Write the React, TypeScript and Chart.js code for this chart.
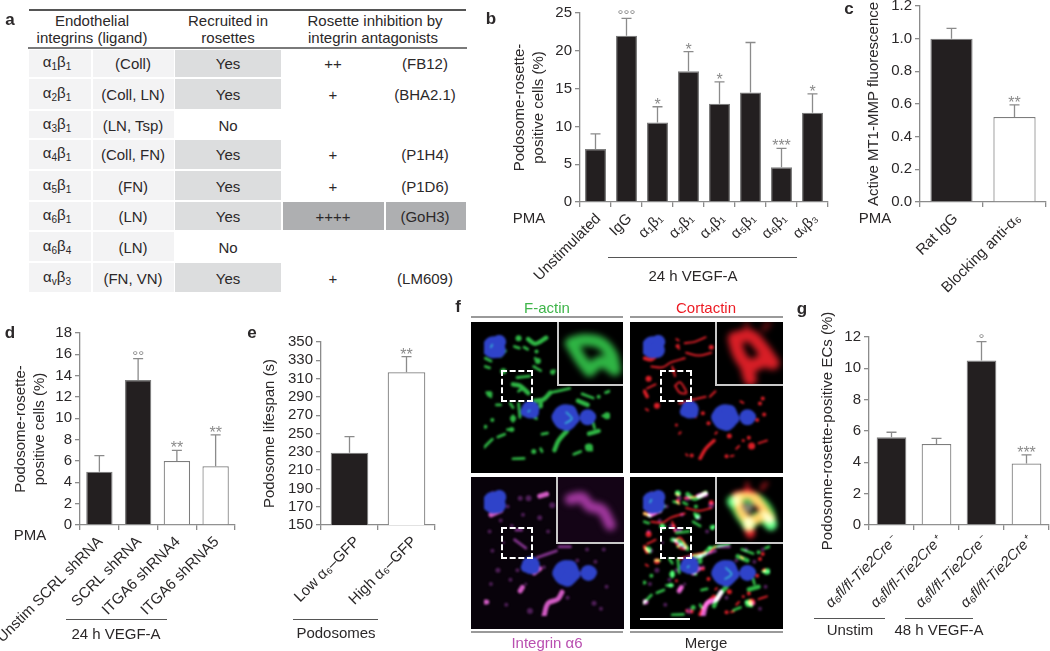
import React, { useEffect, useRef } from "react";
import { Chart, registerables } from "chart.js";

Chart.register(...registerables);

/* ---------- panel a ---------- */
const tableIntegrins = [["1", "1"], ["2", "1"], ["3", "1"], ["4", "1"], ["5", "1"], ["6", "1"], ["6", "4"], ["v", "3"]];
const tableLigands = ["(Coll)", "(Coll, LN)", "(LN, Tsp)", "(Coll, FN)", "(FN)", "(LN)", "(LN)", "(FN, VN)"];
const tableRecruited = ["Yes", "Yes", "No", "Yes", "Yes", "Yes", "No", "Yes"];
const tableInhibition = ["++", "+", "", "+", "+", "++++", "", "+"];
const tableAntibody = ["(FB12)", "(BHA2.1)", "", "(P1H4)", "(P1D6)", "(GoH3)", "", "(LM609)"];

/* ---------- panel b ---------- */
const bLabels = ["Unstimulated", "IgG", "α₁β₁", "α₂β₁", "α₄β₁", "α₅β₁", "α₆β₁", "αᵥβ₃"];
const bValues = [7, 22, 10.5, 17.3, 13, 14.5, 4.6, 11.8];
const bErrorTops = [9, 24.3, 12.6, 19.9, 15.9, 21.1, 7.1, 14.3];
const bMarks = ["", "°°°", "*", "*", "*", "", "***", "*"];
/* ---------- panel c ---------- */
const cLabels = ["Rat IgG", "Blocking anti-α₆"];
const cValues = [1.0, 0.52];
const cErrorTops = [1.063, 0.595];
const cMarks = ["", "**"];
/* ---------- panel d ---------- */
const dLabels = ["Unstim SCRL shRNA", "SCRL shRNA", "ITGA6 shRNA4", "ITGA6 shRNA5"];
const dValues = [5, 13.6, 6, 5.5];
const dErrorTops = [6.5, 15.6, 7, 8.45];
const dMarks = ["", "°°", "**", "**"];
/* ---------- panel e ---------- */
const eLabels = ["Low α₆–GFP", "High α₆–GFP"];
const eValues = [229, 317];
const eErrorTops = [246.5, 334];
const eMarks = ["", "**"];
/* ---------- panel g ---------- */
const gLabels = ["α₆fl/fl-Tie2Cre⁻", "α₆fl/fl-Tie2Cre⁺", "α₆fl/fl-Tie2Cre⁻", "α₆fl/fl-Tie2Cre⁺"];
const gValues = [5.6, 5.17, 10.5, 3.93];
const gErrorTops = [5.92, 5.53, 11.7, 4.47];
const gMarks = ["", "", "°", "***"];

/* ---------- panel f: fluorescence structures ---------- */
const nuclei = [[35, 45, 11], [18, 55, 6], [55, 25, 7], [50, 55, 8], [168, 272, 9], [150, 280, 5], [180, 285, 5], [295, 300, 13], [270, 300, 7], [300, 325, 7], [310, 280, 7], [325, 305, 6], [375, 300, 8], [388, 298, 5]];
const cyanLines = [[[298, 282], [318, 305], [295, 322]], [[30, 35], [25, 45]], [[165, 275], [160, 280]]];

const greenBands = [
  [[160, 15], [185, 32], [225, 10]], [[105, 180], [130, 185], [160, 212]], [[185, 240], [215, 235], [240, 210]],
  [[300, 350], [270, 385], [255, 420]], [[205, 260], [205, 240]], [[380, 360], [415, 350]], [[340, 240], [375, 255]],
];
const greenLines = [
  [[5, 85], [25, 95]], [[60, 78], [78, 58]], [[110, 42], [128, 48]], [[145, 45], [158, 52]], [[122, 10], [130, 14]],
  [[185, 85], [195, 100]], [[180, 115], [205, 130]], [[65, 130], [75, 135]], [[120, 155], [165, 150]], [[125, 205], [140, 195]],
  [[10, 210], [25, 225]], [[45, 255], [60, 255]], [[95, 250], [105, 265]], [[125, 250], [130, 300]], [[240, 210], [310, 195]],
  [[105, 295], [105, 315]], [[355, 215], [395, 230]], [[430, 295], [455, 295]], [[395, 320], [400, 340]],
  [[370, 405], [390, 420]], [[0, 410], [30, 380]], [[50, 372], [75, 362]], [[85, 345], [105, 345]],
  [[210, 362], [230, 358]], [[105, 452], [145, 450]], [[325, 435], [350, 425]], [[205, 415], [210, 425]], [[440, 210], [455, 205]],
  [[180, 300], [190, 305]], [[255, 130], [250, 140]], [[5, 115], [20, 120]],
];
const greenDots = [[125, 12, 3], [70, 132, 3], [195, 95, 3], [20, 215, 3], [180, 425, 2.5], [100, 345, 2.5], [105, 305, 3], [380, 410, 4], [445, 295, 3.5], [190, 60, 2], [248, 135, 2.5], [30, 310, 2], [5, 335, 2], [415, 225, 2]];
const redBands = [[[5, 205], [15, 225]], [[205, 450], [225, 415], [255, 385]], [[5, 85], [30, 90], [55, 70]]];
const redLines = [
  [[150, 30], [185, 25], [225, 8]], [[155, 65], [200, 75], [245, 65]], [[30, 115], [70, 118], [100, 100], [150, 85]],
  [[120, 15], [128, 20]], [[120, 40], [130, 50]], [[105, 115], [115, 150]], [[115, 185], [132, 172], [150, 195], [155, 212], [132, 210], [115, 185]],
  [[15, 195], [45, 180]], [[170, 238], [225, 225]], [[240, 225], [260, 205]], [[130, 250], [180, 235]], [[10, 270], [18, 275]],
  [[315, 442], [325, 440]], [[345, 405], [335, 415]], [[415, 395], [445, 385]], [[155, 435], [160, 440]], [[130, 360], [135, 355]],
  [[260, 360], [265, 355]], [[350, 242], [360, 248]], [[175, 295], [190, 300]],
];
const redDots = [[20, 160, 3], [50, 258, 3], [235, 322, 2], [310, 368, 2.5], [390, 405, 3.5], [410, 310, 2], [420, 250, 2], [435, 290, 2], [380, 375, 2], [175, 440, 2], [430, 232, 2], [120, 328, 1.5], [300, 442, 2], [125, 40, 2], [245, 45, 2.5], [215, 285, 2], [110, 130, 2], [360, 385, 1.5]];
const magentaBright = [[[215, 458], [230, 410], [265, 395], [280, 370]], [[130, 365], [138, 352]], [[180, 300], [200, 285]], [[200, 22], [225, 15]], [[25, 90], [60, 75]], [[5, 405], [10, 405]]];
const magentaMid = [[[190, 245], [260, 220]], [[110, 180], [150, 210]], [[115, 145], [135, 145]], [[30, 10], [45, 15]], [[270, 205], [310, 205]]];
const magentaDots = [[160, 30, 3], [130, 30, 2.5], [245, 55, 3], [140, 90, 2], [100, 130, 2], [50, 290, 2.5], [95, 325, 2], [30, 220, 2], [200, 100, 2.5], [395, 410, 2.5], [165, 438, 3], [370, 215, 2], [430, 215, 2], [335, 255, 2], [350, 300, 2], [120, 290, 2], [60, 110, 2], [85, 60, 2], [230, 150, 2], [20, 150, 2], [70, 190, 1.5], [215, 280, 2], [400, 260, 2], [300, 390, 2], [440, 350, 2], [25, 340, 2], [80, 415, 2], [150, 340, 1.5], [420, 430, 2]];

const insetGreen = [[[35, 65], [70, 55], [120, 62], [155, 100], [165, 145]], [[40, 72], [65, 115], [90, 148]], [[90, 148], [125, 120], [165, 145]]];
const insetRed = [[[50, 50], [95, 42], [130, 80], [160, 125]], [[160, 125], [130, 118], [110, 130], [80, 125], [60, 90], [50, 50]], [[85, 135], [95, 175]]];
const insetRedFaint = [[[85, 0], [85, 30]], [[135, 22], [150, 0]]];
const insetMagenta = [[[35, 65], [70, 60], [90, 85], [125, 95], [150, 140]]];
const insetCore = [[88, 88, 5]];

const AXIS = "#8b8b8b";
const INK = "#2b2829";
const FONT = "'Liberation Sans', Arial, sans-serif";

const errorPlugin = {
  id: "errorMarks",
  afterDatasetsDraw(chart: any, _a: any, opts: any) {
    const { ctx, scales } = chart;
    const tops: number[] = opts.tops;
    const marks: string[] = opts.marks;
    const vals = chart.data.datasets[0].data;
    ctx.save();
    tops.forEach((t, i) => {
      const x = scales.x.getPixelForValue(i);
      const y0 = scales.y.getPixelForValue(vals[i]);
      const y1 = scales.y.getPixelForValue(t);
      ctx.strokeStyle = AXIS;
      ctx.lineWidth = 1.3;
      ctx.beginPath();
      ctx.moveTo(x, y0);
      ctx.lineTo(x, y1);
      ctx.moveTo(x - 5, y1);
      ctx.lineTo(x + 5, y1);
      ctx.stroke();
      const m = marks[i];
      if (m) {
        const star = m[0] === "*";
        ctx.fillStyle = "#8b8b8b";
        ctx.textAlign = "center";
        ctx.textBaseline = "alphabetic";
        ctx.font = `${star ? 16 : 15}px ${FONT}`;
        ctx.fillText(m, x, y1 + (star ? 3 : 2));
      }
    });
    ctx.restore();
  },
};

type BarProps = {
  labels: string[]; values: number[]; tops: number[]; marks: string[]; fills: string[];
  plot: [number, number, number, number]; min: number; max: number; step: number;
  title: string | string[]; titleX: number; pct: number; italic?: boolean; decimals?: number; shift?: number;
};

function BarPanel(p: BarProps) {
  const ref = useRef<HTMLCanvasElement>(null);
  useEffect(() => {
    const [l, t, r, b] = p.plot;
    const lh = 18.4;
    const left = p.titleX - lh / 2;
    const xh = 120;
    const chart = new Chart(ref.current!, {
      type: "bar",
      data: {
        labels: p.labels,
        datasets: [{ data: p.values, backgroundColor: p.fills, borderColor: "#7d7d7d", borderWidth: 1.2, barPercentage: p.pct, categoryPercentage: 1 }],
      },
      plugins: [errorPlugin as any],
      options: {
        animation: false, responsive: false, devicePixelRatio: 1,
        layout: { padding: { left, top: t, right: 1050 - r, bottom: 651 - b - xh } },
        plugins: { legend: { display: false }, tooltip: { enabled: false }, errorMarks: { tops: p.tops, marks: p.marks } } as any,
        scales: {
          x: {
            type: "category", offset: true,
            afterFit(s: any) { s.height = xh; s.paddingLeft = 0; s.paddingRight = 0; },
            border: { color: AXIS, width: 1.3 },
            grid: { drawOnChartArea: false, drawTicks: true, tickLength: 5, color: AXIS, lineWidth: 1.3, offset: true },
            ticks: { autoSkip: false, minRotation: 45, maxRotation: 45, padding: 3, labelOffset: p.shift ?? 2, color: INK, font: { family: FONT, size: p.italic ? 14.5 : 15, style: p.italic ? "italic" : "normal" } },
          },
          y: {
            min: p.min, max: p.max,
            afterFit(s: any) { s.width = l - left; s.paddingTop = 0; s.paddingBottom = 0; },
            border: { color: AXIS, width: 1.3 },
            grid: { drawOnChartArea: false, drawTicks: true, tickLength: 5, color: AXIS, lineWidth: 1.3 },
            ticks: {
              stepSize: p.step, padding: 3, color: INK, autoSkip: false, font: { family: FONT, size: 15 },
              callback: (v: any) => (p.decimals ? Number(v).toFixed(p.decimals) : String(v)),
            },
            title: { display: true, text: p.title, color: INK, padding: 0, font: { family: FONT, size: 15, lineHeight: lh / 15 } },
          },
        },
      },
    } as any);
    return () => chart.destroy();
  }, []);
  return <canvas ref={ref} width={1050} height={651} style={{ position: "absolute", left: 0, top: 0, pointerEvents: "none" }} />;
}

const blendPlugin = {
  id: "blend",
  beforeDatasetDraw(chart: any, args: any) {
    const d = chart.data.datasets[args.index];
    chart.ctx.save();
    if (d.blendMode) chart.ctx.globalCompositeOperation = d.blendMode;
  },
  afterDatasetDraw(chart: any) {
    chart.ctx.restore();
  },
};

const lineSets = (lists: number[][][], color: string, width: number, blendMode?: string) =>
  lists.map((pts) => ({
    type: "line", data: pts.map(([x, y]) => ({ x, y })), borderColor: color, borderWidth: width, pointRadius: 0, tension: 0.35,
    borderCapStyle: "round", borderJoinStyle: "round", fill: false, blendMode,
  }));
const dotSet = (dots: number[][], color: string, blendMode?: string) => ({
  type: "bubble", data: dots.map(([x, y, r]) => ({ x, y, r })), backgroundColor: color, borderWidth: 0, blendMode,
});

function Fluo({ box, range, sets, blur, bg, frame }: { box: number[]; range: number; sets: any[]; blur: number; bg: string; frame?: boolean }) {
  const ref = useRef<HTMLCanvasElement>(null);
  useEffect(() => {
    const chart = new Chart(ref.current!, {
      type: "bubble",
      data: { datasets: sets },
      plugins: [blendPlugin as any],
      options: {
        animation: false, responsive: false, devicePixelRatio: 1,
        layout: { padding: 0 },
        plugins: { legend: { display: false }, tooltip: { enabled: false } },
        scales: {
          x: { type: "linear", min: 0, max: range, display: false },
          y: { type: "linear", min: 0, max: range, reverse: true, display: false },
        },
      },
    } as any);
    return () => chart.destroy();
  }, []);
  const [x, y, w, h] = box;
  return (
    <div style={{ position: "absolute", left: x, top: y, width: w, height: h, overflow: "hidden", background: bg, boxSizing: "border-box", borderLeft: frame ? "2px solid #c9c9c9" : undefined, borderBottom: frame ? "2px solid #c9c9c9" : undefined }}>
      <canvas ref={ref} width={w} height={h} style={{ display: "block", filter: `blur(${blur}px)` }} />
    </div>
  );
}

const G = "#2fb544", R = "#d81e26", M = "#d05ac2", MM = "#7f3289", MD = "#4f1f58", B = "#2f43c9", C = "#35b8d8";
const nucSets = () => [dotSet(nuclei, B)];
const greenSets = (bm?: string) => [...lineSets(greenBands, G, 4.5, bm), ...lineSets(greenLines, G, 2.8, bm), dotSet(greenDots, G, bm)];
const redSets = (bm?: string) => [...lineSets(redBands, R, 3.6, bm), ...lineSets(redLines, R, 2, bm), dotSet(redDots, R, bm)];
const magSets = (bm?: string) => [...lineSets(magentaBright, M, 5, bm), ...lineSets(magentaMid, MM, 3, bm), dotSet(magentaDots, MD, bm)];

const Txt = ({ x, y, s, size = 15, color = INK, bold = false }: any) => (
  <div style={{ position: "absolute", left: x, top: y, transform: "translate(-50%,-50%)", whiteSpace: "nowrap", fontFamily: FONT, fontSize: size, color, fontWeight: bold ? 700 : 400, lineHeight: 1 }}>{s}</div>
);
const Rect = ({ x, y, w, h, c }: any) => <div style={{ position: "absolute", left: x, top: y, width: w, height: h, background: c }} />;
const Dash = ({ x, y }: any) => <div style={{ position: "absolute", left: x, top: y, width: 32, height: 32, boxSizing: "border-box", border: "2px dashed #fff" }} />;
const Sub = ({ t }: { t: string }) => <span style={{ fontSize: 10, verticalAlign: -3 }}>{t}</span>;

const rowTops = [50, 78.7, 111.3, 140, 171.3, 201.7, 232.3, 263];
const rowBottoms = [76.7, 109.3, 138, 168.7, 199.7, 230.3, 261, 292];

export default function App() {
  const K = "#231f20", W = "#ffffff";
  return (
    <div style={{ position: "absolute", left: 0, top: 0, width: 1050, height: 651, overflow: "hidden", background: "#fff" }}>
      {/* panel a */}
      <Rect x={29} y={9} w={437} h={1.5} c="#555" />
      <Rect x={28} y={47} w={439} h={2} c="#7a7a7a" />
      <Txt x={92} y={20} s="Endothelial" /><Txt x={92} y={37} s="integrins (ligand)" />
      <Txt x={228} y={20} s="Recruited in" /><Txt x={228} y={37} s="rosettes" />
      <Txt x={375} y={20} s="Rosette inhibition by" /><Txt x={373} y={37} s="integrin antagonists" />
      {tableLigands.map((lig, i) => {
        const top = rowTops[i], h = rowBottoms[i] - top, mid = top + h / 2;
        const strong = tableInhibition[i] === "++++";
        return (
          <React.Fragment key={i}>
            <Rect x={29} y={top} w={62} h={h} c="#f3f3f4" />
            <Rect x={93} y={top} w={81} h={h} c="#f3f3f4" />
            {tableRecruited[i] === "Yes" && <Rect x={175} y={top} w={106} h={h} c="#dcddde" />}
            {strong && <Rect x={283} y={top} w={101} h={h} c="#aeafb1" />}
            {strong && <Rect x={386} y={top} w={80} h={h} c="#aeafb1" />}
            <Txt x={57} y={mid} s={<>α<Sub t={tableIntegrins[i][0]} />β<Sub t={tableIntegrins[i][1]} /></>} />
            <Txt x={133} y={mid} s={lig} />
            <Txt x={228} y={mid} s={tableRecruited[i]} />
            {tableInhibition[i] && <Txt x={333} y={mid} s={tableInhibition[i]} />}
            {tableAntibody[i] && <Txt x={425} y={mid} s={tableAntibody[i]} />}
          </React.Fragment>
        );
      })}

      {/* bar panels */}
      <BarPanel labels={bLabels} values={bValues} tops={bErrorTops} marks={bMarks} fills={bValues.map(() => K)} plot={[580, 13, 828, 202]} min={0} max={25} step={5} title={["Podosome-rosette-", "positive cells (%)"]} titleX={520} pct={0.68} shift={3} />
      <BarPanel labels={cLabels} values={cValues} tops={cErrorTops} marks={cMarks} fills={[K, W]} plot={[920, 6, 1046, 202]} min={0} max={1.2} step={0.2} title="Active MT1-MMP fluorescence" titleX={874} pct={0.67} decimals={1} shift={4} />
      <BarPanel labels={dLabels} values={dValues} tops={dErrorTops} marks={dMarks} fills={[K, K, W, W]} plot={[80, 333, 235, 525]} min={0} max={18} step={2} title={["Podosome-rosette-", "positive cells (%)"]} titleX={21} pct={0.68} shift={1} />
      <BarPanel labels={eLabels} values={eValues} tops={eErrorTops} marks={eMarks} fills={[K, W]} plot={[321, 342, 435, 525]} min={150} max={350} step={20} title="Podosome lifespan (s)" titleX={270} pct={0.66} shift={8} />
      <BarPanel labels={gLabels} values={gValues} tops={gErrorTops} marks={gMarks} fills={[K, W, K, W]} plot={[869, 337, 1049, 525]} min={0} max={12} step={2} title="Podosome-rosette-positive ECs (%)" titleX={828} pct={0.66} italic shift={3} />

      <Txt x={529} y={217} s="PMA" /><Rect x={608} y={257} w={189} h={1.2} c="#555" /><Txt x={693} y={275} s="24 h VEGF-A" />
      <Txt x={875} y={217} s="PMA" />
      <Txt x={30} y={534} s="PMA" /><Rect x={66} y={619} w={101} h={1.2} c="#555" /><Txt x={116} y={633} s="24 h VEGF-A" />
      <Rect x={293} y={619} w={85} h={1.2} c="#555" /><Txt x={336} y={632} s="Podosomes" />
      <Rect x={814} y={617.5} w={71} h={1.2} c="#555" /><Txt x={850} y={629} s="Unstim" />
      <Rect x={905} y={617.5} w={68} h={1.2} c="#555" /><Txt x={939} y={629} s="48 h VEGF-A" />

      {/* panel f */}
      <Txt x={547} y={307} s="F-actin" color="#3fb54a" /><Txt x={706} y={307} s="Cortactin" color="#ed1c24" />
      <Txt x={547} y={642} s="Integrin α6" color="#b94fb0" /><Txt x={706} y={642} s="Merge" />
      <Rect x={471} y={316} w={152} h={1.5} c="#9a9a9a" /><Rect x={630} y={316} w={153} h={1.5} c="#9a9a9a" />
      <Rect x={471} y={631} w={152} h={1.5} c="#9a9a9a" /><Rect x={630} y={631} w={153} h={1.5} c="#9a9a9a" />

      <Fluo box={[471, 322, 152, 151]} range={456} blur={0.8} bg="#000" sets={[...lineSets(cyanLines, C, 1.6), ...nucSets(), ...greenSets()]} />
      <Fluo box={[630, 322, 153, 151]} range={456} blur={0.8} bg="#000" sets={[...nucSets(), ...redSets()]} />
      <Fluo box={[471, 477, 153, 152]} range={456} blur={0.8} bg="#08020a" sets={[...nucSets(), ...magSets()]} />
      <Fluo box={[630, 477, 153, 152]} range={456} blur={0.8} bg="#000" sets={[...lineSets(cyanLines, C, 1.6), ...nucSets(), ...greenSets("lighter"), ...redSets("lighter"), ...magSets("lighter")]} />

      <Fluo box={[557, 322, 66, 64]} range={195} blur={3} bg="#000" frame sets={lineSets(insetGreen, G, 12)} />
      <Fluo box={[715, 322, 68, 64]} range={195} blur={3} bg="#000" frame sets={[...lineSets(insetRed, R, 13), ...lineSets(insetRedFaint, "#7a1015", 5)]} />
      <Fluo box={[556, 477, 68, 67]} range={195} blur={3} bg="#140416" frame sets={lineSets(insetMagenta, "#a2389f", 11)} />
      <Fluo box={[715, 477, 68, 67]} range={195} blur={2.5} bg="#000" frame sets={[dotSet(insetCore, "#7f8070"), ...lineSets(insetGreen, G, 12, "lighter"), ...lineSets(insetRed, R, 10, "lighter"), ...lineSets(insetRedFaint, "#7a1015", 5, "lighter")]} />

      <Dash x={501} y={370} /><Dash x={660} y={370} /><Dash x={501} y={527} /><Dash x={660} y={527} />
      <Rect x={640} y={618} w={50} h={2} c="#fff" />

      {/* panel letters */}
      <Txt x={10} y={19} s="a" size={17} bold /><Txt x={491} y={18} s="b" size={17} bold /><Txt x={849} y={8} s="c" size={17} bold />
      <Txt x={10} y={332} s="d" size={17} bold /><Txt x={252} y={332} s="e" size={17} bold /><Txt x={458} y={306} s="f" size={17} bold /><Txt x={802} y={308} s="g" size={17} bold />
    </div>
  );
}
